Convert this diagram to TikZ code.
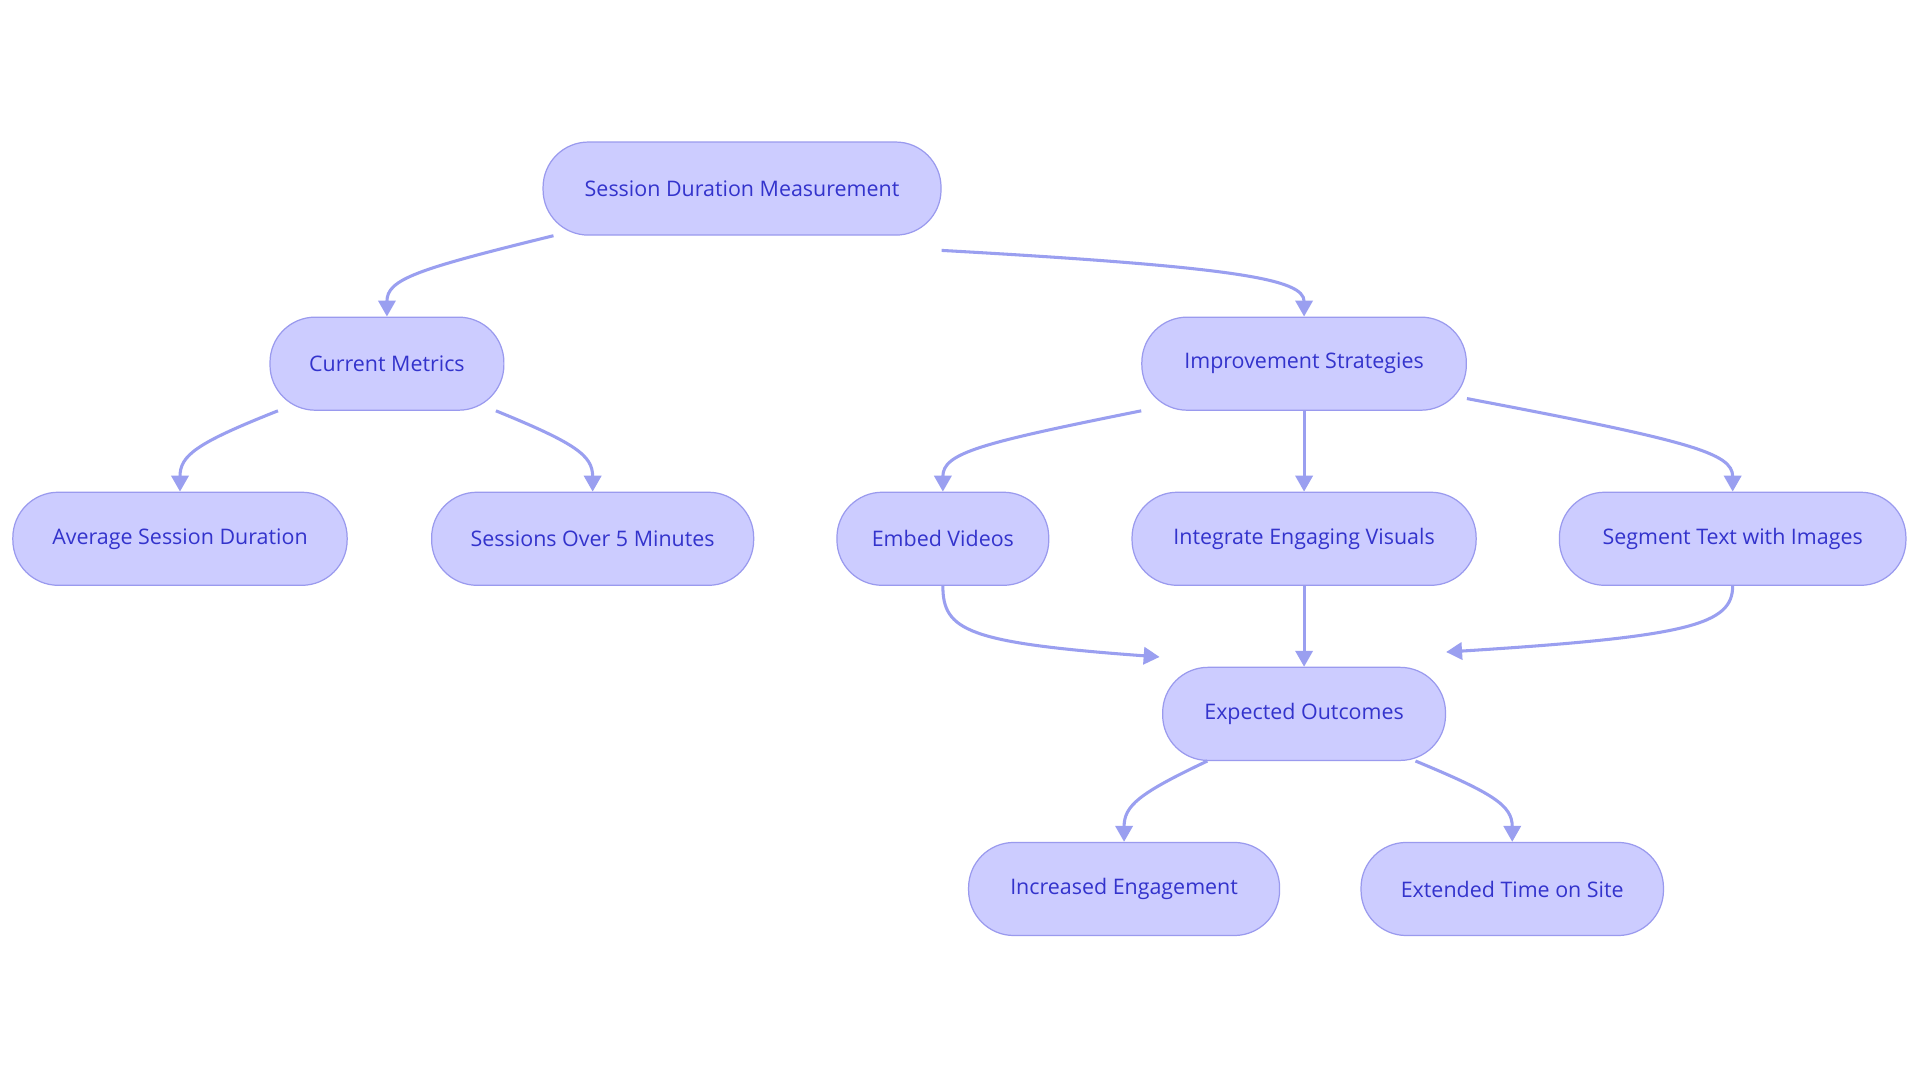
\documentclass[tikz,border=0pt]{standalone}
\usepackage{fontspec}
\setmainfont{Open Sans}
\usetikzlibrary{arrows.meta}
\definecolor{nfill}{HTML}{CCCCFF}
\definecolor{nline}{HTML}{9A9AEE}
\definecolor{ntext}{HTML}{3333CC}
\definecolor{eline}{HTML}{9A9FF0}
\begin{document}
\begin{tikzpicture}[x=1pt,y=-1pt,
 n/.style={draw=nline,fill=nfill,line width=1pt,rounded corners=37pt,minimum height=76pt,text=ntext,font=\fontsize{17.5}{21}\selectfont,inner sep=0pt},
 e/.style={draw=eline,line width=2.5pt,-{Triangle[length=13pt,width=14pt]}}]
\useasboundingbox[fill=white] (0,0) rectangle (1568,885);
\node[n,minimum width=325pt] (smt) at (606,154) {Session Duration Measurement};
\node[n,minimum width=191pt] (cm) at (316,297) {Current Metrics};
\node[n,minimum width=265pt] (is) at (1065,297) {Improvement Strategies};
\node[n,minimum width=273pt] (asd) at (147,440) {Average Session Duration};
\node[n,minimum width=263pt] (so5) at (484,440) {Sessions Over 5 Minutes};
\node[n,minimum width=173pt] (ev) at (770,440) {Embed Videos};
\node[n,minimum width=281pt] (iev) at (1065,440) {Integrate Engaging Visuals};
\node[n,minimum width=283pt] (st) at (1415,440) {Segment Text with Images};
\node[n,minimum width=231pt] (eo) at (1065,583) {Expected Outcomes};
\node[n,minimum width=254pt] (ie) at (918,726) {Increased Engagement};
\node[n,minimum width=247pt] (et) at (1235,726) {Extended Time on Site};
\draw[e] ([xshift=9pt]smt.south west) .. controls (340,220) and (316,228) .. (cm.north);
\draw[e] ([yshift=-12pt]smt.south east) .. controls (1010,218) and (1065,228) .. (is.north);
\draw[e] ([xshift=7pt]cm.south west) .. controls (160,362) and (147,372) .. (asd.north);
\draw[e] ([xshift=-7pt]cm.south east) .. controls (470,362) and (484,372) .. (so5.north);
\draw[e] (is.south west) .. controls (800,362) and (770,370) .. (ev.north);
\draw[e] (is.south) -- (iev.north);
\draw[e] ([yshift=10pt]is.south east) .. controls (1380,360) and (1415,370) .. (st.north);
\draw[e] (ev.south) .. controls (770,515) and (790,525) .. ([xshift=-2pt,yshift=8pt]eo.north west);
\draw[e] (iev.south) -- (eo.north);
\draw[e] (st.south) .. controls (1415,510) and (1380,520) .. ([yshift=12pt]eo.north east);
\draw[e] ([xshift=37pt]eo.south west) .. controls (930,648) and (918,658) .. (ie.north);
\draw[e] ([xshift=-25pt]eo.south east) .. controls (1220,648) and (1235,658) .. (et.north);
\end{tikzpicture}
\end{document}
